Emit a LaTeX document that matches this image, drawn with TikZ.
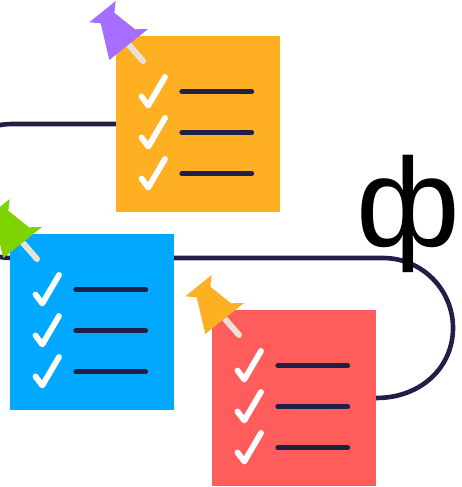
\documentclass[tikz,border=0pt]{standalone}
\usepackage{fontspec}
\usetikzlibrary{backgrounds}
\setmainfont{Liberation Sans}
\definecolor{ink}{HTML}{1F1F47}
\definecolor{orangeS}{HTML}{FFAF22}
\definecolor{blueS}{HTML}{00A8FF}
\definecolor{redS}{HTML}{FF5C5C}
\definecolor{purpleP}{HTML}{A56EFF}
\definecolor{greenP}{HTML}{7FD300}
\definecolor{needle}{HTML}{E6E2DA}
\tikzset{
  sheetbox/.style={fill=#1,draw=none,minimum width=164pt,minimum height=176pt,inner sep=0pt,outer sep=0pt,anchor=north west},
  wire/.style={draw=ink,line width=4.6pt,line join=round},
  checkmark/.style={draw=white,line width=5.8pt,line cap=round,line join=round},
  rowline/.style={draw=ink,line width=5.4pt,line cap=round},
  pinneedle/.style={draw=needle,line width=6pt,line cap=round}
}
\newcommand{\sheet}[5]{%
  \node[sheetbox=#2] (#1) at (#3,#4) {};
  \begin{scope}[shift={(#3,#4)}]
    \draw[pinneedle] (13,9) -- (27,25);
    \fill[#5] (-0.3,-35) -- (-1.7,-23.3) -- (19,-6.7) -- (32,-7) -- (-6.7,24) -- (-15.3,-12.7) -- (-26.7,-13.7) -- cycle;
    \foreach \d in {0,41,82} {
      \draw[checkmark] (25.5,60.5+\d) -- (32.3,69.5+\d) -- (49,41+\d);
      \draw[rowline] (66,55.7+\d) -- (135.5,55.7+\d);
    }
  \end{scope}}
\begin{document}
\begin{tikzpicture}[x=1pt,y=-1pt]
\useasboundingbox (0,0) rectangle (461,487);
\clip (0,0) rectangle (461,487);
\coordinate (rightturn) at (453,328);
\coordinate (leftturn) at (-55,191);
\coordinate (blueIn) at (12,258);
\coordinate (blueOut) at (174,258);
\sheet{orangeSheet}{orangeS}{116}{36}{purpleP}
\sheet{blueSheet}{blueS}{10}{234}{greenP}
\sheet{redSheet}{redS}{212}{310}{orangeS}
\node[inner sep=0pt,font=\fontsize{126pt}{126pt}\selectfont] (phi) at (408,213.5) {ф};
\begin{pgfonlayer}{background}
\draw[wire] (orangeSheet.west) -- (12,124) .. controls (-25,124) and (-55,154) .. (leftturn) .. controls (-55,228) and (-25,258) .. (blueIn);
\draw[wire] (blueOut) -- (383,258) .. controls (421.7,258) and (453,289.3) .. (rightturn) .. controls (453,366.7) and (421.7,398) .. (redSheet.east);
\end{pgfonlayer}
\end{tikzpicture}
\end{document}
